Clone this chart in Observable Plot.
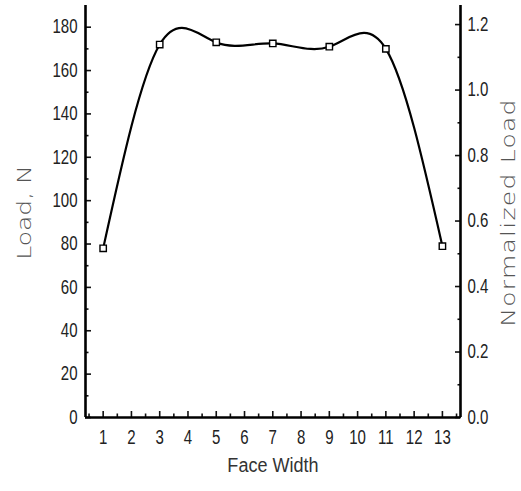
<!DOCTYPE html>
<html>
<head>
<meta charset="utf-8">
<script src="https://cdn.jsdelivr.net/npm/d3@7"></script>
<script src="https://cdn.jsdelivr.net/npm/@observablehq/plot@0.6"></script>
<style>
  html, body { margin: 0; padding: 0; background: #fff; }
</style>
</head>
<body>
<div id="chart"></div>
<script>
// ---- data ----
const faceWidth = [1, 3, 5, 7, 9, 11, 13];
const load = [78, 172, 173, 172.5, 171, 170, 79];
const xTicks = [1, 2, 3, 4, 5, 6, 7, 8, 9, 10, 11, 12, 13];
const xMinorTicks = [0.5, 1.5, 2.5, 3.5, 4.5, 5.5, 6.5, 7.5, 8.5, 9.5, 10.5, 11.5, 12.5, 13.5];
const loadTicks = [0, 20, 40, 60, 80, 100, 120, 140, 160, 180];
const loadMinorTicks = [10, 30, 50, 70, 90, 110, 130, 150, 170];
const normTicks = [0, 0.2, 0.4, 0.6, 0.8, 1.0, 1.2];
const normMinorTicks = [0.1, 0.3, 0.5, 0.7, 0.9, 1.1];
const normBase = 151; // load corresponding to normalized load 1.0

const data = faceWidth.map((x, i) => ({x, y: load[i]}));
const xDomain = [0.375, 13.64];
const yDomain = [0, 190];

const tickFont = "'Liberation Sans', Arial, sans-serif";
const titleFont = "'DejaVu Sans', sans-serif";
const tickFontSize = 19.5;

const chart = Plot.plot({
  width: 521,
  height: 491,
  marginLeft: 85,
  marginRight: 61,
  marginTop: 5,
  marginBottom: 74,
  style: {fontFamily: tickFont, background: "#fff", color: "#111"},
  x: {domain: xDomain},
  y: {domain: yDomain},
  marks: [
    // bottom axis ticks (inward)
    Plot.axisX({ticks: xTicks, tickSize: -6, text: null, label: null, strokeWidth: 1.6}),
    Plot.axisX({ticks: xMinorTicks, tickSize: -3.5, text: null, label: null, strokeWidth: 1.6}),
    Plot.axisX({ticks: xTicks, tickSize: 0, tickPadding: 13, fontSize: tickFontSize, tickFormat: d => String(d), fill: "#222", label: null}),
    // left axis
    Plot.axisY({anchor: "left", ticks: loadTicks, tickSize: -6, text: null, label: null, strokeWidth: 1.6}),
    Plot.axisY({anchor: "left", ticks: loadMinorTicks, tickSize: -3.5, text: null, label: null, strokeWidth: 1.6}),
    Plot.axisY({anchor: "left", ticks: loadTicks, tickSize: 0, tickPadding: 8, fontSize: tickFontSize, tickFormat: d => String(d), fill: "#222", label: null}),
    // right axis (normalized load)
    Plot.axisY({anchor: "right", ticks: normTicks.map(v => v * normBase), tickSize: -6, text: null, label: null, strokeWidth: 1.6}),
    Plot.axisY({anchor: "right", ticks: normMinorTicks.map(v => v * normBase), tickSize: -3.5, text: null, label: null, strokeWidth: 1.6}),
    Plot.axisY({anchor: "right", ticks: normTicks.map(v => v * normBase), tickSize: 0, tickPadding: 7, fontSize: tickFontSize, tickFormat: d => (d / normBase).toFixed(1), fill: "#222", label: null}),
    // axis lines
    Plot.ruleX([xDomain[0], xDomain[1]], {stroke: "#000", strokeWidth: 2.6}),
    Plot.ruleY([yDomain[0]], {stroke: "#000", strokeWidth: 2.6}),
    // curve and markers
    Plot.line(data, {x: "x", y: "y", curve: "natural", stroke: "#000", strokeWidth: 2.2}),
    Plot.dot(data, {x: "x", y: "y", symbol: "square", r: 3.6, stroke: "#000", fill: "#fff", strokeWidth: 1.4}),
    // axis titles
    Plot.text(["Load, N"], {frameAnchor: "left", textAnchor: "middle", dx: -61, dy: 1, rotate: -90, fontSize: 20, fontFamily: titleFont, fontWeight: 200, fill: "#555"}),
    Plot.text(["Normalized Load"], {frameAnchor: "right", textAnchor: "middle", dx: 48, dy: 1, rotate: -90, fontSize: 20, fontFamily: titleFont, fontWeight: 200, fill: "#555"}),
    Plot.text(["Face Width"], {frameAnchor: "bottom", textAnchor: "middle", dy: 54, fontSize: 21, fontFamily: tickFont, fill: "#333"})
  ]
});

// condense the tick labels and x title horizontally (narrow plotter-style font)
function px(v, fs) {
  if (v == null || v === "") return 0;
  const n = parseFloat(v);
  if (isNaN(n)) return 0;
  return String(v).trim().endsWith("em") ? n * fs : n;
}
function stretch(el, s, fs) {
  const t = el.getAttribute("transform") || "";
  const x = px(el.getAttribute("x"), fs) + px(el.getAttribute("dx"), fs);
  el.removeAttribute("x"); el.removeAttribute("dx");
  el.setAttribute("transform", `${t} translate(${x},0) scale(${s},1)`);
}
chart.querySelectorAll('g[aria-label$="tick label"] text').forEach(el => stretch(el, 0.77, tickFontSize));
chart.querySelectorAll("text").forEach(el => {
  if (el.textContent === "Face Width") stretch(el, 0.86, 21);
  if (el.textContent === "Load, N") stretch(el, 1.25, 20);
  if (el.textContent === "Normalized Load") { el.style.letterSpacing = "1px"; stretch(el, 1.25, 20); }
});

document.getElementById("chart").appendChild(chart);
</script>
</body>
</html>
